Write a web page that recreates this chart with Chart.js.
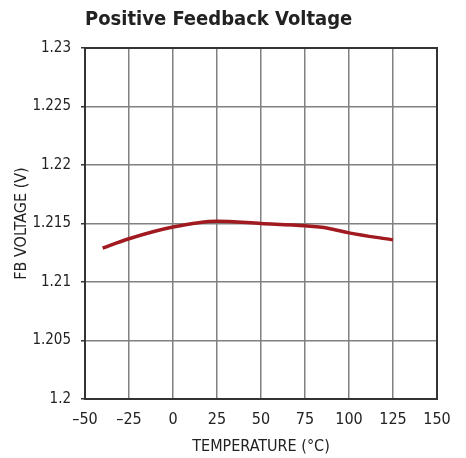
<!DOCTYPE html>
<html>
<head>
<meta charset="utf-8">
<script src="https://cdn.jsdelivr.net/npm/chart.js@4/dist/chart.umd.min.js"></script>
<style>
  html, body { margin: 0; padding: 0; background: #fff; }
  #wrap { width: 466px; height: 458px; }
</style>
</head>
<body>
<div id="wrap"><canvas id="chart"></canvas></div>
<script>
// temperature (°C) and FB voltage (V)
const temps = [-40, -25, 0, 25, 50, 75, 88, 100, 125];
const fbVolts = [1.2129, 1.2137, 1.2147, 1.2152, 1.2150, 1.2148, 1.2146, 1.2142, 1.2136];

const xTicks = [-50, -25, 0, 25, 50, 75, 100, 125, 150];
const xTickLabels = ['\u201350', '\u201325', '0', '25', '50', '75', '100', '125', '150'];
const yTicks = [1.2, 1.205, 1.21, 1.215, 1.22, 1.225, 1.23];
const yTickLabels = ['1.2', '1.205', '1.21', '1.215', '1.22', '1.225', '1.23'];

const fam = '"Liberation Sans Narrow", "DejaVu Sans Condensed", "Roboto Condensed", Roboto, "Liberation Sans", sans-serif';

// dark box round the plot area, drawn under the curve
const frame = {
  id: 'frame',
  beforeDatasetsDraw(chart) {
    const { ctx, chartArea: a } = chart;
    ctx.save();
    ctx.strokeStyle = '#333';
    ctx.lineWidth = 2;
    ctx.strokeRect(a.left, a.top, a.right - a.left, a.bottom - a.top);
    ctx.restore();
  },
};

const ctx = document.getElementById('chart').getContext('2d');
new Chart(ctx, {
  type: 'line',
  data: {
    datasets: [{
      label: 'FB Voltage',
      data: temps.map((t, i) => ({ x: t, y: fbVolts[i] })),
      borderColor: '#a01a20',
      borderWidth: 3.5,
      pointRadius: 0,
      tension: 0.4,
      cubicInterpolationMode: 'monotone',
      fill: false,
    }],
  },
  options: {
    responsive: true,
    maintainAspectRatio: false,
    animation: false,
    layout: { padding: { left: 6, right: 29, top: 4, bottom: 2 } },
    plugins: {
      legend: { display: false },
      tooltip: { enabled: false },
      title: {
        display: true,
        text: 'Positive Feedback Voltage',
        align: 'start',
        fullSize: false,
        color: '#222',
        font: { family: fam, size: 20, weight: 'bold' },
        padding: { top: 4, bottom: 16 },
      },
    },
    scales: {
      x: {
        type: 'linear',
        min: -50,
        max: 150,
        afterBuildTicks: (axis) => { axis.ticks = xTicks.map(v => ({ value: v })); },
        afterFit: (axis) => { axis.height = 57; },
        ticks: {
          color: '#222',
          font: { family: fam, size: 16 },
          padding: 11,
          maxRotation: 0,
          autoSkip: false,
          callback: (v) => xTickLabels[xTicks.indexOf(v)],
        },
        grid: { color: '#808080', lineWidth: 1.5, drawTicks: false },
        border: { color: '#333', width: 2 },
        title: {
          display: true,
          text: 'TEMPERATURE (°C)',
          color: '#222',
          font: { family: fam, size: 16 },
          padding: { top: 0, bottom: 0 },
        },
      },
      y: {
        min: 1.2,
        max: 1.23,
        afterBuildTicks: (axis) => { axis.ticks = yTicks.map(v => ({ value: v })); },
        afterFit: (axis) => { axis.width = 79; },
        ticks: {
          color: '#222',
          font: { family: fam, size: 15 },
          padding: 10,
          autoSkip: false,
          callback: (v) => yTickLabels[yTicks.findIndex(t => Math.abs(t - v) < 1e-9)],
        },
        grid: { color: '#808080', lineWidth: 1.5, tickLength: 4, tickColor: '#333' },
        border: { color: '#333', width: 2 },
        title: {
          display: true,
          text: 'FB VOLTAGE (V)',
          color: '#222',
          font: { family: fam, size: 16 },
          padding: { top: 6, bottom: 0 },
        },
      },
    },
  },
  plugins: [frame],
});
</script>
</body>
</html>
